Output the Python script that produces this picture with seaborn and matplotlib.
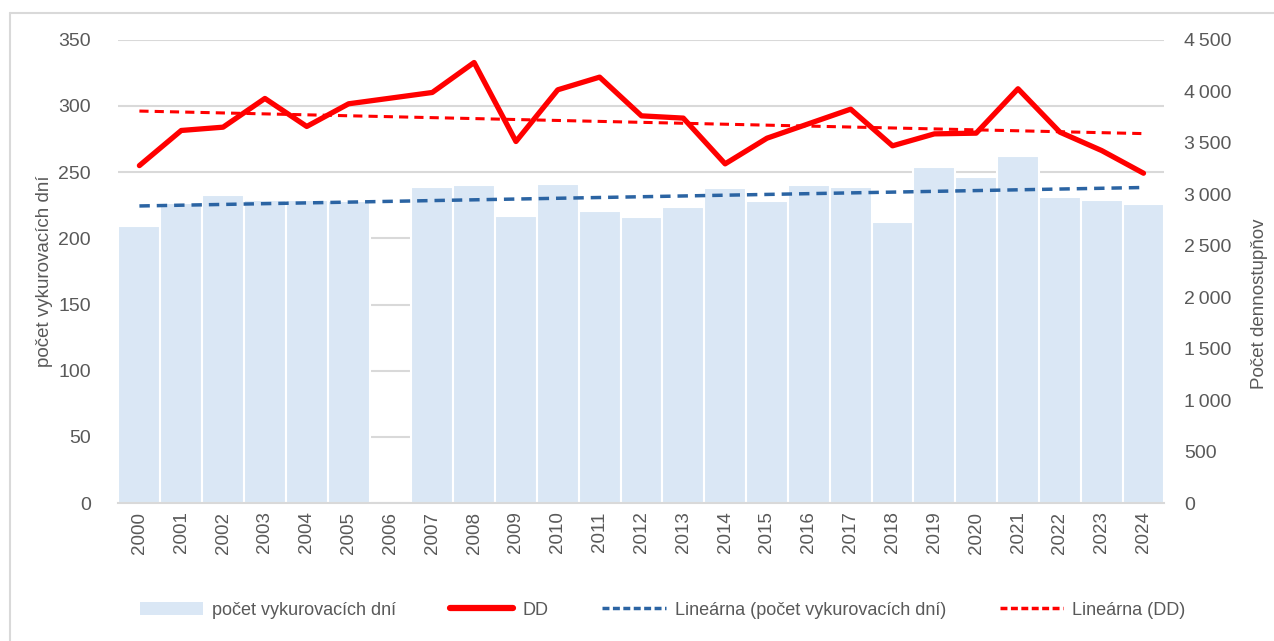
import numpy as np
import pandas as pd
import matplotlib
matplotlib.use("Agg")
import matplotlib.pyplot as plt
import seaborn as sns
from matplotlib.lines import Line2D
from matplotlib.patches import Patch
from matplotlib.ticker import FuncFormatter

# údaje
roky = [str(r) for r in range(2000, 2025)]
dni = [209, 227, 233, 229, 229, 228, np.nan, 239, 240, 217, 241, 221, 216, 224,
       238, 228, 240, 239, 212, 254, 246, 262, 231, 229, 226]
dd = [3278, 3619, 3651, 3930, 3658, 3878, np.nan, 3988, 4279, 3512, 4014, 4137,
      3761, 3739, 3295, 3544, 3685, 3826, 3470, 3586, 3593, 4024, 3603, 3424, 3204]

df = pd.DataFrame({"rok": roky, "dni": dni, "dd": dd})
df["i"] = np.arange(len(df))

sns.set_theme(style="white")
plt.rcParams["font.family"] = ["Liberation Sans", "DejaVu Sans"]

farba_bar = "#dae7f5"
farba_red = "#ff0000"
farba_blue = "#2b64a3"
sivá = "#595959"

fig, ax = plt.subplots(figsize=(12.74, 6.41), dpi=100)
fig.subplots_adjust(left=0.093, right=0.914, top=0.938, bottom=0.215)

ax.set_axisbelow(True)
ax.grid(axis="y", color="#d9d9d9", linewidth=1.5)
sns.barplot(data=df.dropna(subset=["dni"]), x="rok", y="dni", order=roky,
            color=farba_bar, saturation=1, width=1.0, edgecolor="white",
            linewidth=1.5, ax=ax)

# lineárny trend - počet dní
d = df.dropna(subset=["dni"])
k = np.polyfit(d["i"], d["dni"], 1)
ax.plot(df["i"], np.polyval(k, df["i"]), color=farba_blue, linestyle=(0, (3, 2)),
        linewidth=2.5)

ax.set_ylim(0, 350)
ax.set_xlim(-0.5, 24.5)
ax.set_yticks(range(0, 351, 50))
ax.set_xlabel("")
ax.set_ylabel("počet vykurovacích dní", fontsize=13.5, color=sivá, labelpad=4)
ax.tick_params(axis="x", rotation=90, labelsize=13.5, colors=sivá, length=0, pad=6)
ax.tick_params(axis="y", labelsize=14, colors=sivá, length=0, pad=20)
for s in ["left", "right", "top"]:
    ax.spines[s].set_visible(False)
ax.spines["bottom"].set_color("#d9d9d9")
ax.spines["bottom"].set_linewidth(1.5)

ax2 = ax.twinx()
e = df.dropna(subset=["dd"])
sns.lineplot(data=e, x="i", y="dd", color=farba_red, linewidth=3.8, ax=ax2)
k2 = np.polyfit(e["i"], e["dd"], 1)
ax2.plot(df["i"], np.polyval(k2, df["i"]), color=farba_red, linestyle=(0, (3, 2)),
         linewidth=2.2)
ax2.set_ylim(0, 4500)
ax2.set_yticks(range(0, 4501, 500))
ax2.yaxis.set_major_formatter(FuncFormatter(lambda v, p: f"{v:,.0f}".replace(",", "\u2009")))
ax2.set_ylabel("Počet dennostupňov", fontsize=13.5, color=sivá)
ax2.yaxis.set_label_coords(1.083, 0.43)
ax2.tick_params(axis="y", labelsize=14, colors=sivá, length=0, pad=14)
ax2.set_xlabel("")
for s in ["left", "right", "top", "bottom"]:
    ax2.spines[s].set_visible(False)
ax2.grid(False)

handles = [
    Patch(facecolor=farba_bar, edgecolor="none"),
    Line2D([], [], color=farba_red, linewidth=4.5),
    Line2D([], [], color=farba_blue, linewidth=2.5, linestyle=(0, (2, 1))),
    Line2D([], [], color=farba_red, linewidth=2.5, linestyle=(0, (2, 1))),
]
labels = ["počet vykurovacích dní", "DD", "Lineárna (počet vykurovacích dní)", "Lineárna (DD)"]
fig.legend(handles, labels, loc="center", bbox_to_anchor=(0.52, 0.048), ncol=4,
           frameon=False, fontsize=13, labelcolor=sivá, handlelength=3.5,
           columnspacing=3.0, handletextpad=0.5)

# rámček grafu
fig.add_artist(Line2D([10 / 1274, 10 / 1274], [0, 1 - 13 / 641], color="#d9d9d9",
                      linewidth=1.5, transform=fig.transFigure))
fig.add_artist(Line2D([10 / 1274, 1], [1 - 13 / 641, 1 - 13 / 641], color="#d9d9d9",
                      linewidth=1.5, transform=fig.transFigure))

fig.savefig("out.png", dpi=100)
